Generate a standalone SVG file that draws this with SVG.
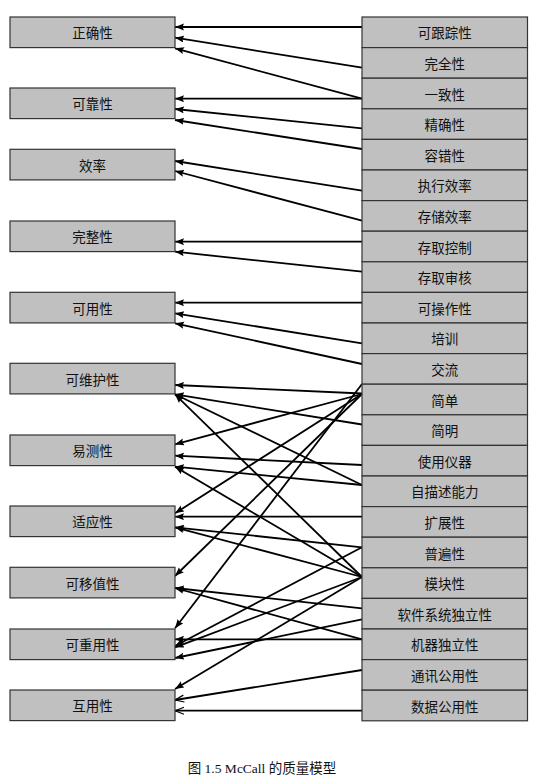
<svg xmlns="http://www.w3.org/2000/svg" width="551" height="784" viewBox="0 0 551 784">
<style>
.box{fill:#c0c0c0;stroke:#333;stroke-width:1.2}
.lbl{font-family:"Noto Sans CJK SC","Noto Sans CJK JP",sans-serif;font-size:13.5px;fill:#111;text-anchor:middle;dominant-baseline:central}
.cap{font-family:"Liberation Serif","Noto Sans CJK SC",serif;font-size:13.5px;fill:#111;text-anchor:middle}
#connectors line{stroke:#000;stroke-width:1.8;fill:none;marker-end:url(#ah)}
#connectors line.o{marker-end:url(#ao)}
</style>
<defs>
<marker id="ah" markerUnits="userSpaceOnUse" markerWidth="10" markerHeight="8" refX="9" refY="3.5" orient="auto"><path d="M0,0 L9,3.5 L0,7 L1.5,3.5 Z" fill="#000"/></marker>
<marker id="ao" markerUnits="userSpaceOnUse" markerWidth="11" markerHeight="9" refX="9.5" refY="4" orient="auto"><path d="M0.5,0.5 L9.5,4 L0.5,7.5" fill="none" stroke="#000" stroke-width="1.2"/></marker>
</defs>
<rect width="551" height="784" fill="#fff"/>

<g id="connectors">
<line x1="362" y1="27" x2="175" y2="27"/>
<line x1="362" y1="67.7" x2="175" y2="37.7"/>
<line x1="362" y1="98.7" x2="175" y2="48.3"/>
<line x1="362" y1="98.7" x2="175" y2="98.7"/>
<line x1="362" y1="128.3" x2="175" y2="109"/>
<line x1="362" y1="149" x2="175" y2="120"/>
<line x1="362" y1="190.7" x2="175" y2="161"/>
<line x1="362" y1="220.7" x2="175" y2="171"/>
<line x1="362" y1="241.7" x2="175" y2="241.7"/>
<line x1="362" y1="271.7" x2="175" y2="251.7"/>
<line x1="362" y1="302.7" x2="175" y2="302.7"/>
<line x1="362" y1="343.3" x2="175" y2="313.3"/>
<line x1="362" y1="364" x2="175" y2="323.3"/>
<line x1="362" y1="393.5" x2="175" y2="385"/>
<line x1="362" y1="424.5" x2="175" y2="394.3"/>
<line x1="362" y1="485" x2="175" y2="394.3"/>
<line x1="362" y1="577" x2="175" y2="394.3"/>
<line x1="362" y1="394" x2="175" y2="444.3"/>
<line x1="362" y1="465" x2="175" y2="455.7"/>
<line x1="362" y1="485" x2="175" y2="466.7"/>
<line x1="362" y1="577" x2="175" y2="466.7"/>
<line x1="362" y1="394" x2="175" y2="513.3"/>
<line x1="362" y1="516.7" x2="175" y2="516.7"/>
<line x1="362" y1="547.3" x2="175" y2="527.3"/>
<line x1="362" y1="577" x2="175" y2="527.3"/>
<line x1="362" y1="394" x2="175" y2="576"/>
<line x1="362" y1="608.3" x2="175" y2="588"/>
<line x1="362" y1="639.3" x2="175" y2="588"/>
<line x1="362" y1="384" x2="175" y2="628.3"/>
<line x1="362" y1="639.3" x2="175" y2="639.3"/>
<line x1="362" y1="547.3" x2="175" y2="646"/>
<line x1="362" y1="577" x2="175" y2="647.3"/>
<line x1="362" y1="619.3" x2="175" y2="658"/>
<line x1="362" y1="577" x2="175" y2="689"/>
<line class="o" x1="362" y1="670" x2="175" y2="700"/>
<line class="o" x1="362" y1="710.7" x2="175" y2="710.7"/>
</g>

<g id="q-correctness"><rect class="box" x="10" y="17" width="165" height="30.6"/><text class="lbl" x="92.5" y="32.3">正确性</text></g>
<g id="q-reliability"><rect class="box" x="10" y="88" width="165" height="30.6"/><text class="lbl" x="92.5" y="103.3">可靠性</text></g>
<g id="q-efficiency"><rect class="box" x="10" y="149.3" width="165" height="30.6"/><text class="lbl" x="92.5" y="164.6">效率</text></g>
<g id="q-integrity"><rect class="box" x="10" y="221" width="165" height="30.6"/><text class="lbl" x="92.5" y="236.3">完整性</text></g>
<g id="q-usability"><rect class="box" x="10" y="292.3" width="165" height="30.6"/><text class="lbl" x="92.5" y="307.6">可用性</text></g>
<g id="q-maintainability"><rect class="box" x="10" y="363.3" width="165" height="30.6"/><text class="lbl" x="92.5" y="378.6">可维护性</text></g>
<g id="q-testability"><rect class="box" x="10" y="435" width="165" height="30.6"/><text class="lbl" x="92.5" y="450.3">易测性</text></g>
<g id="q-flexibility"><rect class="box" x="10" y="506" width="165" height="30.6"/><text class="lbl" x="92.5" y="521.3">适应性</text></g>
<g id="q-portability"><rect class="box" x="10" y="567.3" width="165" height="30.6"/><text class="lbl" x="92.5" y="582.6">可移值性</text></g>
<g id="q-reusability"><rect class="box" x="10" y="629" width="165" height="30.6"/><text class="lbl" x="92.5" y="644.3">可重用性</text></g>
<g id="q-interoperability"><rect class="box" x="10" y="690" width="165" height="30.6"/><text class="lbl" x="92.5" y="705.3">互用性</text></g>

<g id="c-traceability"><rect class="box" x="362" y="17" width="165.5" height="30.6"/><text class="lbl" x="444.75" y="32.3">可跟踪性</text></g>
<g id="c-completeness"><rect class="box" x="362" y="47.6" width="165.5" height="30.6"/><text class="lbl" x="444.75" y="62.9">完全性</text></g>
<g id="c-consistency"><rect class="box" x="362" y="78.2" width="165.5" height="30.6"/><text class="lbl" x="444.75" y="93.5">一致性</text></g>
<g id="c-accuracy"><rect class="box" x="362" y="108.8" width="165.5" height="30.6"/><text class="lbl" x="444.75" y="124.1">精确性</text></g>
<g id="c-errortolerance"><rect class="box" x="362" y="139.4" width="165.5" height="30.6"/><text class="lbl" x="444.75" y="154.7">容错性</text></g>
<g id="c-execefficiency"><rect class="box" x="362" y="170" width="165.5" height="30.6"/><text class="lbl" x="444.75" y="185.3">执行效率</text></g>
<g id="c-storageefficiency"><rect class="box" x="362" y="200.6" width="165.5" height="30.6"/><text class="lbl" x="444.75" y="215.9">存储效率</text></g>
<g id="c-accesscontrol"><rect class="box" x="362" y="231.2" width="165.5" height="30.6"/><text class="lbl" x="444.75" y="246.5">存取控制</text></g>
<g id="c-accessaudit"><rect class="box" x="362" y="261.8" width="165.5" height="30.6"/><text class="lbl" x="444.75" y="277.1">存取审核</text></g>
<g id="c-operability"><rect class="box" x="362" y="292.4" width="165.5" height="30.6"/><text class="lbl" x="444.75" y="307.7">可操作性</text></g>
<g id="c-training"><rect class="box" x="362" y="323" width="165.5" height="30.6"/><text class="lbl" x="444.75" y="338.3">培训</text></g>
<g id="c-communicativeness"><rect class="box" x="362" y="353.6" width="165.5" height="30.6"/><text class="lbl" x="444.75" y="368.9">交流</text></g>
<g id="c-simplicity"><rect class="box" x="362" y="384.2" width="165.5" height="30.6"/><text class="lbl" x="444.75" y="399.5">简单</text></g>
<g id="c-conciseness"><rect class="box" x="362" y="414.8" width="165.5" height="30.6"/><text class="lbl" x="444.75" y="430.1">简明</text></g>
<g id="c-instrumentation"><rect class="box" x="362" y="445.4" width="165.5" height="30.6"/><text class="lbl" x="444.75" y="460.7">使用仪器</text></g>
<g id="c-selfdescriptiveness"><rect class="box" x="362" y="476" width="165.5" height="30.6"/><text class="lbl" x="444.75" y="491.3">自描述能力</text></g>
<g id="c-expandability"><rect class="box" x="362" y="506.6" width="165.5" height="30.6"/><text class="lbl" x="444.75" y="521.9">扩展性</text></g>
<g id="c-generality"><rect class="box" x="362" y="537.2" width="165.5" height="30.6"/><text class="lbl" x="444.75" y="552.5">普遍性</text></g>
<g id="c-modularity"><rect class="box" x="362" y="567.8" width="165.5" height="30.6"/><text class="lbl" x="444.75" y="583.1">模块性</text></g>
<g id="c-swindependence"><rect class="box" x="362" y="598.4" width="165.5" height="30.6"/><text class="lbl" x="444.75" y="613.7">软件系统独立性</text></g>
<g id="c-machineindependence"><rect class="box" x="362" y="629" width="165.5" height="30.6"/><text class="lbl" x="444.75" y="644.3">机器独立性</text></g>
<g id="c-commcommonality"><rect class="box" x="362" y="659.6" width="165.5" height="30.6"/><text class="lbl" x="444.75" y="674.9">通讯公用性</text></g>
<g id="c-datacommonality"><rect class="box" x="362" y="690.2" width="165.5" height="30.6"/><text class="lbl" x="444.75" y="705.5">数据公用性</text></g>

<text class="cap" x="262" y="773">图 1.5 McCall 的质量模型</text>
</svg>
